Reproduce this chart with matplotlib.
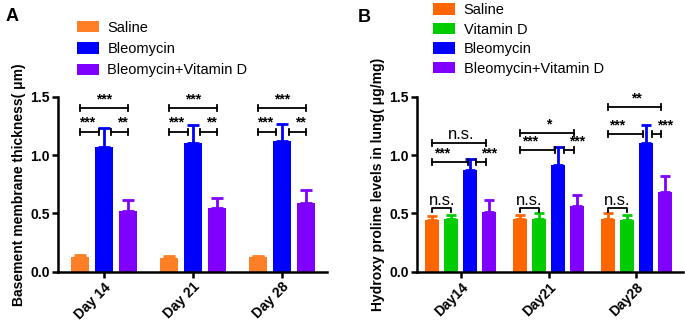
import matplotlib.pyplot as plt
import numpy as np

DAYS_A = ['Day 14', 'Day 21', 'Day 28']
DAYS_B = ['Day14', 'Day21', 'Day28']

# panel A: basement membrane thickness
groups_a = ['Saline', 'Bleomycin', 'Bleomycin+Vitamin D']
means_a = [
    [0.13, 0.12, 0.125],
    [1.07, 1.10, 1.12],
    [0.52, 0.545, 0.59],
]
errs_a = [
    [0.015, 0.015, 0.012],
    [0.16, 0.155, 0.145],
    [0.095, 0.09, 0.11],
]

# panel B: hydroxyproline
groups_b = ['Saline', 'Vitamin D', 'Bleomycin', 'Bleomycin+Vitamin D']
means_b = [
    [0.445, 0.45, 0.455],
    [0.455, 0.45, 0.445],
    [0.87, 0.915, 1.10],
    [0.515, 0.56, 0.68],
]
errs_b = [
    [0.035, 0.04, 0.05],
    [0.035, 0.05, 0.045],
    [0.095, 0.15, 0.16],
    [0.10, 0.10, 0.14],
]

# significance labels
sig_a_top = ['***', '***', '***']
sig_a_left = ['***', '***', '***']
sig_a_right = ['**', '**', '**']
sig_b_top = ['n.s.', '*', '**']
sig_b_top_y = [1.10, 1.19, 1.41]
sig_b_low_y = [0.94, 1.04, 1.18]
sig_b_left = ['***', '***', '***']
sig_b_right = ['***', '***', '***']
sig_b_ns = ['n.s.', 'n.s.', 'n.s.']

COLORS_A = ['#FF7F27', '#0000FF', '#8000FF']
COLORS_B = ['#FF6600', '#00CC00', '#0000FF', '#8000FF']

plt.rcParams['font.family'] = ['Liberation Sans', 'DejaVu Sans']
plt.rcParams['font.weight'] = 'bold'

fig = plt.figure(figsize=(6.85, 3.21), dpi=100)


def style_axis(ax, ylabel, labels, x_min, x_max):
    ax.set_ylim(0, 1.5)
    ax.set_xlim(x_min, x_max)
    ax.set_yticks([0.0, 0.5, 1.0, 1.5])
    ax.set_yticklabels(['0.0', '0.5', '1.0', '1.5'], fontsize=10, fontweight='bold')
    ax.set_xticks(np.arange(len(labels)))
    ax.set_xticklabels(labels, rotation=45, ha='right', rotation_mode='anchor',
                       fontsize=10, fontweight='bold')
    ax.spines['top'].set_visible(False)
    ax.spines['right'].set_visible(False)
    for side in ['left', 'bottom']:
        ax.spines[side].set_linewidth(1.8)
    ax.tick_params(width=1.8, length=4, direction='out', pad=2)
    ax.set_ylabel(ylabel, fontsize=10, fontweight='bold', labelpad=3)


def bracket(ax, x1, x2, y, tick=0.025, down_only=False):
    if down_only:
        ax.plot([x1, x1, x2, x2], [y - tick * 1.6, y, y, y - tick * 1.6],
                color='black', lw=1.3, clip_on=False)
    else:
        ax.plot([x1, x2], [y, y], color='black', lw=1.3, clip_on=False)
        ax.plot([x1, x1], [y - tick, y + tick], color='black', lw=1.3, clip_on=False)
        ax.plot([x2, x2], [y - tick, y + tick], color='black', lw=1.3, clip_on=False)


def star(ax, x, y, text, size=10, weight='bold'):
    ax.text(x, y, text, ha='center', va='bottom', fontsize=size, fontweight=weight,
            clip_on=False)


# ---- panel A ----
ax_a = fig.add_axes([0.0847, 0.1536, 0.3927, 0.5452])
x = np.arange(len(DAYS_A))
width_a = 0.2
step_a = 0.27
for i, name in enumerate(groups_a):
    pos = x + (i - 1) * step_a
    ax_a.bar(pos, means_a[i], width_a, color=COLORS_A[i], label=name, zorder=2)
    ax_a.errorbar(pos, means_a[i], yerr=[np.zeros(3), errs_a[i]], fmt='none',
                  ecolor=COLORS_A[i], elinewidth=2, capsize=4.5, capthick=2, zorder=2)
style_axis(ax_a, 'Basement membrane thickness( μm)', DAYS_A, -0.52, 2.51)

for d in range(3):
    left = d - step_a
    right = d + step_a
    bracket(ax_a, left, right, 1.40)
    star(ax_a, d, 1.415, sig_a_top[d])
    bracket(ax_a, left, d - 0.06, 1.20)
    star(ax_a, left + 0.08, 1.215, sig_a_left[d])
    bracket(ax_a, d + 0.08, right, 1.20)
    star(ax_a, d + 0.21, 1.215, sig_a_right[d])

ax_a.legend(loc='lower left', bbox_to_anchor=(0.07, 1.11), frameon=False,
            borderpad=0, borderaxespad=0, handlelength=1.5, handleheight=0.8,
            handletextpad=0.6, labelspacing=0.5,
            prop={'weight': 'normal', 'size': 10.5})

fig.text(0.008, 0.935, 'A', fontsize=13, fontweight='bold')

# ---- panel B ----
ax_b = fig.add_axes([0.6088, 0.1536, 0.388, 0.5452])
width_b = 0.16
step_b = 0.216
for i, name in enumerate(groups_b):
    pos = x + (i - 1.5) * step_b
    ax_b.bar(pos, means_b[i], width_b, color=COLORS_B[i], label=name, zorder=2)
    ax_b.errorbar(pos, means_b[i], yerr=[np.zeros(3), errs_b[i]], fmt='none',
                  ecolor=COLORS_B[i], elinewidth=2, capsize=3.5, capthick=2, zorder=2)
style_axis(ax_b, 'Hydroxy proline levels in lung( μg/mg)', DAYS_B, -0.5, 2.53)

for d in range(3):
    p_sal = d - 1.5 * step_b
    p_vit = d - 0.5 * step_b
    p_bleo = d + 0.5 * step_b
    p_combo = d + 1.5 * step_b
    bracket(ax_b, p_sal, p_combo - 0.04, sig_b_top_y[d])
    if sig_b_top[d] == 'n.s.':
        star(ax_b, d, sig_b_top_y[d] + 0.015, sig_b_top[d], size=12, weight='normal')
    else:
        star(ax_b, d, sig_b_top_y[d] + 0.015, sig_b_top[d])
    bracket(ax_b, p_sal, p_bleo - 0.03, sig_b_low_y[d])
    star(ax_b, p_sal + 0.11, sig_b_low_y[d] + 0.015, sig_b_left[d])
    bracket(ax_b, p_bleo + 0.07, p_combo - 0.04, sig_b_low_y[d])
    star(ax_b, p_combo, sig_b_low_y[d] + 0.015, sig_b_right[d])
    bracket(ax_b, p_sal, p_vit, 0.55, down_only=True)
    star(ax_b, (p_sal + p_vit) / 2, 0.545, sig_b_ns[d], size=12, weight='normal')

ax_b.legend(loc='lower left', bbox_to_anchor=(0.06, 1.12), frameon=False,
            borderpad=0, borderaxespad=0, handlelength=1.5, handleheight=0.8,
            handletextpad=0.6, labelspacing=0.38,
            prop={'weight': 'normal', 'size': 10.5})

fig.text(0.522, 0.93, 'B', fontsize=13, fontweight='bold')

fig.savefig('out.png', dpi=100)
